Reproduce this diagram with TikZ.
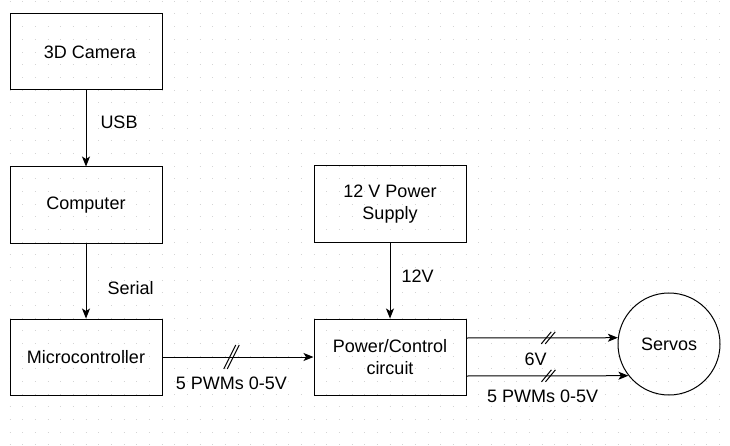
\documentclass[tikz,border=0pt]{standalone}
\usepackage{fontspec}
\setmainfont{Liberation Sans}
\usepackage{tikz}
\usetikzlibrary{positioning, arrows.meta, calc, decorations.markings}

\begin{document}
\begin{tikzpicture}[
    x=1pt, y=1pt,
    every node/.style={font=\fontsize{18}{22}\selectfont},
    block/.style={rectangle, draw=black, line width=1pt, minimum width=152pt, minimum height=76pt, inner sep=0pt, align=center},
    servo/.style={circle, draw=black, line width=1pt, minimum size=102pt, inner sep=0pt},
    link/.style={-{Stealth[length=10pt, width=8pt, inset=2.5pt]}, line width=1pt, draw=black},
    lbl/.style={inner sep=0pt},
    gridline/.style={draw=black!17, line width=1pt, dash pattern=on 1pt off 11.67pt},
    busA/.style={postaction={decorate, decoration={markings, mark=at position #1 with {
        \draw[-, line width=1pt] (-7.75pt,-12pt) -- (4.25pt,12pt);
        \draw[-, line width=1pt] (-4.25pt,-12pt) -- (7.75pt,12pt);}}}},
    busB/.style={postaction={decorate, decoration={markings, mark=at position #1 with {
        \draw[-, line width=1pt] (-7pt,-6pt) -- (3pt,6pt);
        \draw[-, line width=1pt] (-3pt,-6pt) -- (7pt,6pt);}}}}
]
\useasboundingbox (0,0) rectangle (730,445);

% Background grid
\foreach \j in {-1,...,34}
    \draw[gridline] (-3.17, 445-14-\j*12.67) -- (730, 445-14-\j*12.67);

% Nodes
\node[block] (camera) at (86,393) {\hspace{8pt}3D Camera};
\node[block, below=76pt of camera] (computer) {Computer};
\node[block, below=75pt of computer] (micro) {Microcontroller};
\node[block, right=151pt of micro] (power) {Power/Control\\circuit};
\node[block, above=76pt of power] (supply) {12 V Power\\Supply};
\node[servo, right=151pt of power, yshift=13pt] (servos) {Servos};

% Arrows
\draw[link] (camera) -- node[lbl, pos=0.42, anchor=west, xshift=14pt] {USB} (computer);
\draw[link] (computer) -- node[lbl, pos=0.59, anchor=west, xshift=21pt] {Serial} (micro);
\draw[link] (supply) -- node[lbl, pos=0.45, anchor=west, xshift=11pt] {12V} (power);

% Bus lines
\draw[link, busA=0.457] (micro) -- node[lbl, pos=0.457, yshift=-26pt] {5 PWMs 0-5V} (power);
\draw[link, busB=0.54] ($(power.east)+(0,19)$) -- node[lbl, pos=0.457, yshift=-21pt] {6V} (servos.173.25);
\draw[link, busB=0.506] ($(power.east)+(0,-19)$) -- node[lbl, pos=0.47, yshift=-20pt] {5 PWMs 0-5V} (servos.218.86);

\end{tikzpicture}
\end{document}
